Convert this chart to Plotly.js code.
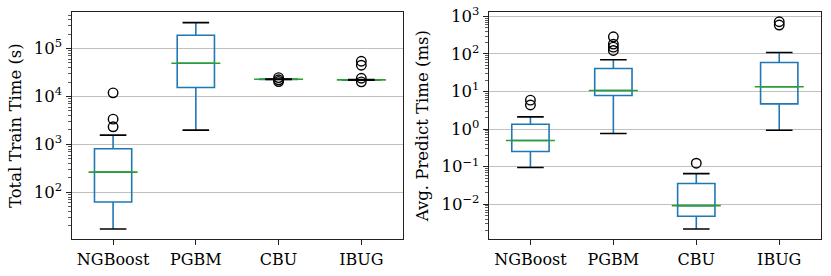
<!DOCTYPE html>
<html>
<head>
<meta charset="utf-8">
<script src="https://cdn.plot.ly/plotly-3.0.1.min.js"></script>
<style>html,body{margin:0;padding:0;background:#fff}#chart{width:831px;height:276px}</style>
</head>
<body>
<div id="chart"></div>
<script>
const categories = ['NGBoost', 'PGBM', 'CBU', 'IBUG'];

// Total train time (s)
const trainLower  = [17.2, 1990, 22700, 21800];
const trainQ1     = [62.8, 15400, 22800, 22000];
const trainMedian = [265, 49400, 22900, 22200];
const trainQ3     = [811, 189000, 23000, 22400];
const trainUpper  = [1563, 348000, 23100, 22600];
const trainOutX   = ['NGBoost', 'NGBoost', 'NGBoost', 'CBU', 'CBU', 'CBU', 'IBUG', 'IBUG', 'IBUG', 'IBUG'];
const trainOutY   = [11900, 3370, 2330, 20500, 22300, 24800, 54300, 44900, 24000, 20200];
const trainTickVals = [1e2, 1e3, 1e4, 1e5];
const trainTickText = ['10<sup>2</sup>', '10<sup>3</sup>', '10<sup>4</sup>', '10<sup>5</sup>'];

// Avg. predict time (ms)
const predLower  = [0.095, 0.763, 0.0022, 0.937];
const predQ1     = [0.253, 7.85, 0.00479, 4.71];
const predMedian = [0.497, 10.7, 0.0092, 13.4];
const predQ3     = [1.35, 41.2, 0.0356, 59.4];
const predUpper  = [2.12, 70, 0.0656, 110];
const predOutX   = ['NGBoost', 'NGBoost', 'PGBM', 'PGBM', 'PGBM', 'PGBM', 'CBU', 'IBUG', 'IBUG'];
const predOutY   = [5.9, 4.4, 287, 183, 152, 124, 0.124, 721, 588];
const predTickVals = [1e-2, 1e-1, 1e0, 1e1, 1e2, 1e3];
const predTickText = ['10<sup>\u22122</sup>', '10<sup>\u22121</sup>', '10<sup>0</sup>', '10<sup>1</sup>', '10<sup>2</sup>', '10<sup>3</sup>'];

const BLUE = '#1f77b4', GREEN = '#2ca02c', BLACK = '#000000';
const FONT = 'DejaVu Serif, serif';

// minor log ticks (2..9 x 10^k) for axis decoration
function minorTicks(lo, hi) {
  const v = [];
  for (let k = lo; k <= hi; k++) for (let m = 2; m <= 9; m++) v.push(m * Math.pow(10, k));
  return v;
}

function panel(xa, ya, lower, q1, med, q3, upper, outX, outY) {
  return [
    {type: 'box', x: categories, q1: q1, median: med, q3: q3,
     lowerfence: lower, upperfence: upper, xaxis: xa, yaxis: ya,
     width: 0.45, whiskerwidth: 0, boxpoints: false,
     line: {color: BLUE, width: 1.6}, fillcolor: 'rgba(0,0,0,0)',
     showlegend: false, hoverinfo: 'skip'},
    {type: 'scatter', mode: 'markers', x: categories, y: med, xaxis: xa, yaxis: ya,
     marker: {symbol: 'line-ew', size: 35, line: {color: GREEN, width: 1.6}},
     showlegend: false, hoverinfo: 'skip'},
    {type: 'scatter', mode: 'markers', x: categories.concat(categories), y: lower.concat(upper),
     xaxis: xa, yaxis: ya,
     marker: {symbol: 'line-ew', size: 19, line: {color: BLACK, width: 1.6}},
     showlegend: false, hoverinfo: 'skip'},
    {type: 'scatter', mode: 'markers', x: outX, y: outY, xaxis: xa, yaxis: ya,
     marker: {symbol: 'circle-open', size: 9.5, color: BLACK, line: {color: BLACK, width: 1.4}},
     showlegend: false, hoverinfo: 'skip'}
  ];
}

const data = panel('x', 'y', trainLower, trainQ1, trainMedian, trainQ3, trainUpper, trainOutX, trainOutY)
  .concat(panel('x2', 'y2', predLower, predQ1, predMedian, predQ3, predUpper, predOutX, predOutY));

function xaxis(domain) {
  return {domain: domain, type: 'category', categoryorder: 'array', categoryarray: categories,
    range: [-0.5, 3.5], showgrid: false, zeroline: false,
    showline: true, mirror: true, linecolor: '#222', linewidth: 1.2,
    ticks: 'outside', ticklen: 5, tickcolor: '#222', tickwidth: 1,
    tickfont: {family: FONT, size: 16, color: '#000'}};
}
function yaxis(domain, range, title, anchor, vals, text, minor) {
  return {domain: domain, type: 'log', range: range, tickmode: 'array', tickvals: vals, ticktext: text,
    anchor: anchor,
    showgrid: true, gridcolor: '#c0c0c0', gridwidth: 1, zeroline: false,
    showline: true, mirror: true, linecolor: '#222', linewidth: 1.2,
    ticks: 'outside', ticklen: 5, tickcolor: '#222', tickwidth: 1,
    minor: {tickmode: 'array', tickvals: minor, ticks: 'outside', ticklen: 3, tickcolor: '#333', tickwidth: 0.8, showgrid: false},
    tickfont: {family: FONT, size: 16.5, color: '#000'},
    title: {text: title, font: {family: FONT, size: 16.5, color: '#000'}, standoff: 8}};
}

const layout = {
  width: 831, height: 276,
  margin: {l: 0, r: 0, t: 0, b: 0},
  paper_bgcolor: '#fff', plot_bgcolor: '#fff',
  boxmode: 'overlay', hovermode: false,
  xaxis: Object.assign(xaxis([0.0863, 0.4846]), {anchor: 'y'}),
  yaxis: yaxis([0.133, 0.9565], [1.021, 5.7625], 'Total Train Time (s)', 'x', trainTickVals, trainTickText, minorTicks(1, 5)),
  xaxis2: Object.assign(xaxis([0.5884, 0.9876]), {anchor: 'y2'}),
  yaxis2: yaxis([0.133, 0.9565], [-2.932, 3.117], 'Avg. Predict Time (ms)', 'x2', predTickVals, predTickText, minorTicks(-3, 3))
};

Plotly.newPlot('chart', data, layout, {displayModeBar: false, staticPlot: true});
</script>
</body>
</html>
